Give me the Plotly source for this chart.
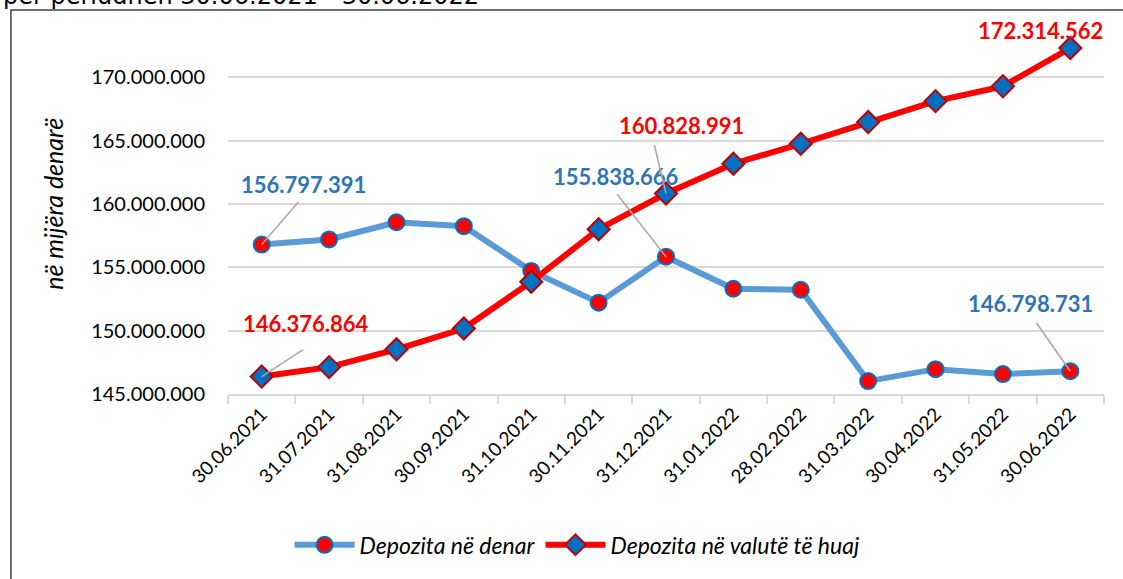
import plotly.graph_objects as go

dates = ["30.06.2021", "31.07.2021", "31.08.2021", "30.09.2021", "31.10.2021", "30.11.2021",
         "31.12.2021", "31.01.2022", "28.02.2022", "31.03.2022", "30.04.2022", "31.05.2022", "30.06.2022"]
denar = [156797391, 157200000, 158560000, 158250000, 154720000, 152210000,
         155838666, 153310000, 153230000, 146020000, 146960000, 146570000, 146798731]
valute = [146376864, 147120000, 148530000, 150170000, 153860000, 158010000,
          160828991, 163180000, 164750000, 166470000, 168120000, 169290000, 172314562]
ytick_vals = [145000000, 150000000, 155000000, 160000000, 165000000, 170000000]

name_denar = "Depozita në denar"
name_valute = "Depozita në valutë të huaj"
title_text = "për periudhën 30.06.2021 - 30.06.2022"
ytitle = "në mijëra denarë"

FONT = "Lato"
BLUE_LINE = "#5B9BD5"
BLUE_TXT = "#2E75B6"
RED = "#FF0000"

fig = go.Figure()
fig.add_trace(go.Scatter(
    x=dates, y=denar, name=name_denar, mode="lines+markers",
    line=dict(color=BLUE_LINE, width=6),
    marker=dict(symbol="circle", size=16, color=RED, line=dict(color="#0070C0", width=2)),
))
fig.add_trace(go.Scatter(
    x=dates, y=valute, name=name_valute, mode="lines+markers",
    line=dict(color=RED, width=6),
    marker=dict(symbol="diamond", size=17, color="#0070C0", line=dict(color="#C00000", width=2)),
))

# labels: (series, index, color, text dx, text dy, leader tail dx, dy)
labels = [
    (denar, 0, BLUE_TXT, 42, -60, 38, -44),
    (valute, 0, RED, 44, -53, 43, -28),
    (denar, 6, BLUE_TXT, -50, -80, -50, -64),
    (valute, 6, RED, 15, -68, -12, -50),
    (valute, 12, RED, -30, -18, None, None),
    (denar, 12, BLUE_TXT, -40, -68, -35, -50),
]
for series, i, col, dx, dy, lx, ly in labels:
    v = series[i]
    txt = f"{v:,}".replace(",", ".")
    fig.add_annotation(x=dates[i], y=v, text=f"<b>{txt}</b>", showarrow=False,
                       xshift=dx, yshift=-dy, font=dict(family=FONT, size=22, color=col))
    if lx is not None:
        fig.add_annotation(x=dates[i], y=v, text="", showarrow=True, ax=lx, ay=ly,
                           arrowhead=0, arrowwidth=1.5, arrowcolor="#A6A6A6", standoff=0,
                           font=dict(size=1))

# y-axis title
fig.add_annotation(xref="paper", yref="paper", x=-0.2, y=0.5, xanchor="center", yanchor="middle",
                   text=ytitle, textangle=-90, showarrow=False,
                   font=dict(family=FONT, size=25, color="#000000", style="italic"))
# cut-off title at top
fig.add_annotation(xref="paper", yref="paper", x=-0.259, y=1.047, xanchor="left", yanchor="middle",
                   text=title_text, showarrow=False, font=dict(family="DejaVu Sans", size=24, color="#000000"))
# outer frame
fig.add_shape(type="rect", xref="paper", yref="paper", x0=-0.2478, x1=1.2, y0=-0.6, y1=1.0104,
              line=dict(color="#404040", width=1.5), layer="below")

fig.update_layout(
    width=1123, height=579,
    margin=dict(l=228, r=19, t=14, b=182),
    paper_bgcolor="white", plot_bgcolor="white",
    separators=",.",
    font=dict(family=FONT, size=18, color="#000000"),
    showlegend=True,
    legend=dict(orientation="h", x=0.3985, xanchor="center", y=-0.397, yanchor="middle",
                font=dict(family=FONT, size=23, color="#000000", style="italic"), itemwidth=60,
                bgcolor="rgba(0,0,0,0)", traceorder="normal"),
    xaxis=dict(type="category", showgrid=False, showline=True, linecolor="#D9D9D9", linewidth=1.5,
               ticks="outside", tickson="boundaries", ticklen=8, tickcolor="#D9D9D9", tickwidth=1.5,
               tickangle=-45, tickfont=dict(family=FONT, size=19, color="#000000"),
               range=[-0.5, 12.5]),
    yaxis=dict(range=[145000000, 175000000], tickvals=ytick_vals, tickformat=",d",
               showgrid=True, gridcolor="#D9D9D9", gridwidth=1.5, zeroline=False, showline=False,
               ticks="", ticklabelstandoff=22, tickfont=dict(family=FONT, size=20, color="#000000")),
)
for tr in fig.data:
    tr.cliponaxis = False

fig.write_html("out.html", config={"displayModeBar": False},
               post_script="document.body.style.margin='0';document.body.style.overflow='hidden';")
